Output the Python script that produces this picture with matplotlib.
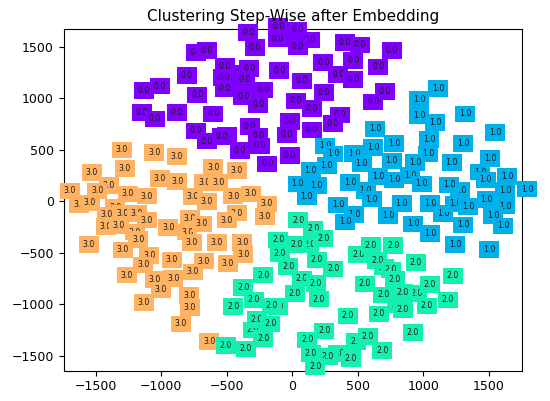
import matplotlib
matplotlib.use('Agg')
import matplotlib.pyplot as plt

# cluster labels and colours
labels = ['0.0', '1.0', '2.0', '3.0']
colors = ['#8000ff', '#00b0ea', '#14f0b0', '#ffb262']

# embedded points, one list pair per cluster;
# the first few of each are the half-hidden ones drawn underneath
x0 = [-735, -109, -450, 350,
      -336, -285, -107, 38, 135, 41, 402, 516, 758, 236, 465, 656, 465, -100,
      -328, -514, -527, -361, -514, 71, -222, 241, -374, -260, 28, 148, 363,
      707, -18, 310, -323, -260, -43, 148, -501, -18, -1010, -1132, -1149,
      -1048, -882, -653, -806, -725, -603, -737, -653, -539, -399, -247, -191,
      617]
y0 = [1440, 1583, 1240, 1230,
      1640, 1494, 1695, 1662, 1565, 1500, 1543, 1517, 1461, 1345, 1364, 1303,
      1184, 1267, 1290, 1306, 1203, 1184, 1096, 1167, 1080, 1053, 1015, 934,
      973, 902, 837, 1063, 772, 756, 723, 633, 643, 691, 643, 442, 1118, 1073,
      859, 798, 863, 1461, 1218, 1031, 847, 682, 584, 626, 490, 536, 361, 963]

x1 = [1431, 1622, 1278, 900, 560, 1150,
      1113, 966, 1317, 966, 1088, 1546, 630, 778, 617, 1042, 1304, 249, 312,
      470, 1037, 529, 758, 936, 1216, 1508, 262, 140, 656, 778, 1475, 1640,
      440, 987, 1195, 41, 186, 1792, 109, 605, 1482, 351, 473, 402, 732, 834,
      1050, 1241, 1622, 1342, 1533, 923, 1050, 1304, 1609, 1241, 1502]
y1 = [283, 107, 107, 250, 100, -120,
      1096, 989, 847, 830, 762, 665, 701, 562, 523, 601, 562, 536, 458, 465,
      458, 368, 390, 378, 374, 413, 345, 296, 238, 206, 206, 238, 180, 167,
      157, 167, 150, 118, 44, 21, 17, -37, -127, -202, -141, -20, -20, -27,
      -47, -53, -137, -221, -312, -231, -241, -418, -467]

x2 = [130, 700, 950, 350, -300, 800,
      45, 160, 236, 33, -107, -94, -31, 186, 312, 71, 178, 20, 203, -112, 503,
      600, 770, 648, 943, 752, 783, 554, 694, 842, 1050, 1223, 842, 1025, 1185,
      661, 422, 918, 244, 114, 486, 575, 686, 142, 270, 447, 173, -222, -374,
      -293, -450, -158, -272, -170, -222, -506, -356]
y2 = [-420, -640, -900, -1480, -1250, -1000,
      -183, -270, -360, -418, -377, -506, -636, -571, -658, -755, -797, -894,
      -950, -1024, -516, -432, -432, -578, -593, -668, -758, -804, -911, -888,
      -807, -726, -1050, -1017, -959, -1095, -1115, -1273, -1260, -1348, -1360,
      -1316, -1452, -1477, -1510, -1525, -1607, -717, -840, -959, -1024, -1017,
      -1147, -1192, -1331, -1403, -1435]

x3 = [-1350, -1200, -1400, -800, -1050,
      -1302, -1053, -882, -1531, -1277, -603, -425, -1010, -878, -672, -565,
      -1696, -1488, -1256, -1111, -760, -450, -318, -1625, -1544, -1416, -1297,
      -1187, -1111, -1421, -1322, -946, -781, -691, -653, -425, -501, -209,
      -196, -1551, -1175, -768, -577, -382, -1294, -1091, -1137, -920, -674,
      -493, -374, -1264, -760, -908, -1002, -786, -1132, -781, -852, -634]
y3 = [-60, -300, 150, -300, -760,
      497, 471, 432, 277, 319, 325, 296, 222, 189, 180, 180, 99, 99, 70, 50,
      44, 50, 70, -37, -17, -134, -117, -117, -183, -248, -241, -257, -166,
      -221, -5, -115, -183, -150, -27, -418, -370, -403, -403, -403, -474,
      -529, -619, -571, -581, -603, -516, -717, -687, -749, -862, -917, -982,
      -1030, -1192, -1360]

clusters = [(x3, y3, 3), (x0, y0, 0), (x1, y1, 1), (x2, y2, 2)]

fig = plt.figure(figsize=(5.5, 4.01), dpi=100)
ax = fig.add_axes([0.1158, 0.0756, 0.8327, 0.8514])

for xs, ys, k in clusters:
    for x, y in zip(xs, ys):
        ax.text(x, y, labels[k], fontsize=5.6, ha='center', va='center',
                color='#1a1a1a',
                bbox=dict(boxstyle='square,pad=0.5', facecolor=colors[k],
                          edgecolor='none'))

ax.set_xlim(-1744, 1749)
ax.set_ylim(-1646, 1669)
ax.set_xticks([-1500, -1000, -500, 0, 500, 1000, 1500])
ax.set_yticks([-1500, -1000, -500, 0, 500, 1000, 1500])
ax.tick_params(labelsize=9)
ax.set_title('Clustering Step-Wise after Embedding', fontsize=11)

fig.savefig('out.png', dpi=100)
